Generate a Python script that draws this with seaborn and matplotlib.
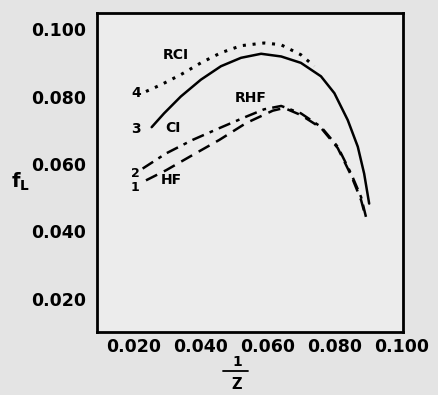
import numpy as np
import seaborn as sns
import matplotlib.pyplot as plt

# curves
rci_x = [0.0237, 0.0282, 0.0341, 0.0401, 0.0461, 0.0521, 0.0590, 0.0640, 0.0700, 0.0740]
rci_y = [0.0815, 0.0835, 0.0865, 0.0900, 0.0930, 0.0951, 0.0959, 0.0954, 0.0924, 0.0890]

ci_x = [0.0254, 0.0291, 0.0341, 0.0401, 0.0461, 0.0521, 0.0581, 0.0641, 0.0700, 0.0760,
        0.0800, 0.0840, 0.0870, 0.0889, 0.0904]
ci_y = [0.0709, 0.0750, 0.0800, 0.0850, 0.0890, 0.0915, 0.0927, 0.0919, 0.0900, 0.0860,
        0.0810, 0.0730, 0.0651, 0.0571, 0.0482]

rhf_x = [0.0227, 0.0297, 0.0376, 0.0456, 0.0536, 0.0590, 0.0641, 0.0700, 0.0760, 0.0810,
         0.0850, 0.0880, 0.0897]
rhf_y = [0.0586, 0.0631, 0.0671, 0.0706, 0.0740, 0.0762, 0.0772, 0.0750, 0.0710, 0.0651,
         0.0571, 0.0501, 0.0432]

hf_x = [0.0237, 0.0297, 0.0376, 0.0456, 0.0536, 0.0616, 0.0650, 0.0700, 0.0760, 0.0810,
        0.0850, 0.0880, 0.0892]
hf_y = [0.0551, 0.0581, 0.0626, 0.0671, 0.0721, 0.0758, 0.0766, 0.0745, 0.0707, 0.0647,
        0.0566, 0.0492, 0.0447]

ticks = [0.020, 0.040, 0.060, 0.080, 0.100]
tick_labels = ['0.020', '0.040', '0.060', '0.080', '0.100']

sns.set_style('white')
plt.rcParams['font.family'] = ['DejaVu Sans']
plt.rcParams['text.color'] = 'black'
bg = '#e4e4e4'

fig = plt.figure(figsize=(4.38, 3.95), dpi=100, facecolor=bg)
ax = fig.add_axes([0.221, 0.159, 0.699, 0.808])
ax.set_facecolor('#ececec')

sns.lineplot(x=rci_x, y=rci_y, ax=ax, color='black', lw=2.2, linestyle=(0, (1, 2.2)))
sns.lineplot(x=ci_x, y=ci_y, ax=ax, color='black', lw=1.8, linestyle='-')
sns.lineplot(x=rhf_x, y=rhf_y, ax=ax, color='black', lw=1.8, linestyle=(0, (5, 2.5, 1.5, 2.5)))
sns.lineplot(x=hf_x, y=hf_y, ax=ax, color='black', lw=1.8, linestyle=(0, (5, 3)))

ax.set_xlim(0.009, 0.1005)
ax.set_ylim(0.010, 0.1048)
ax.set_xticks(ticks)
ax.set_xticklabels(tick_labels)
ax.set_yticks(ticks)
ax.set_yticklabels(tick_labels)
ax.tick_params(axis='x', direction='in', length=9, width=1.8, labelsize=12.5, pad=4,
               labelcolor='black', color='black')
ax.tick_params(axis='y', direction='out', length=6, width=1.8, labelsize=12.5, pad=2,
               labelcolor='black', color='black')
for lab in ax.get_xticklabels() + ax.get_yticklabels():
    lab.set_fontweight('bold')
for sp in ax.spines.values():
    sp.set_visible(True)
    sp.set_color('black')
    sp.set_linewidth(2)

# curve labels
kw = dict(fontsize=10, fontweight='bold', ha='center', va='center')
ax.text(0.0326, 0.0924, 'RCI', **kw)
ax.text(0.0317, 0.0708, 'CI', **kw)
ax.text(0.0551, 0.0795, 'RHF', **kw)
ax.text(0.0312, 0.0551, 'HF', **kw)
ax.text(0.0207, 0.0810, '4', **kw)
ax.text(0.0207, 0.0704, '3', **kw)
ax.text(0.0205, 0.0570, '2', fontsize=9, fontweight='bold', ha='center', va='center')
ax.text(0.0205, 0.0530, '1', fontsize=9, fontweight='bold', ha='center', va='center')

fig.text(0.046, 0.539, r'$\mathbf{f_L}$', fontsize=14, ha='center', va='center')
fig.text(0.541, 0.083, '1', fontsize=10, fontweight='bold', ha='center', va='center')
fig.add_artist(plt.Line2D([0.510, 0.567], [0.060, 0.060], color='black', lw=1.3))
fig.text(0.541, 0.026, 'Z', fontsize=10.5, fontweight='bold', ha='center', va='center')

fig.savefig('out.png', dpi=100, facecolor=bg)
